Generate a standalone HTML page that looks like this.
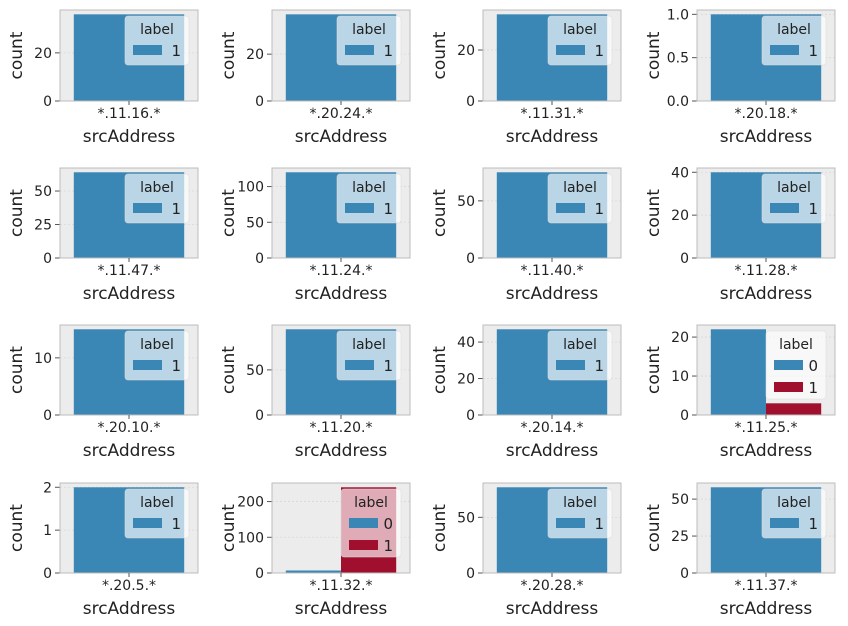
<!DOCTYPE html>
<html><head><meta charset="utf-8"><style>
html,body{margin:0;padding:0;background:#fff;}
svg{display:block;font-family:"DejaVu Sans","Liberation Sans",sans-serif;}
</style></head><body>
<svg id="chart" width="848" height="626" viewBox="0 0 848 626"></svg>
<script>
const categories=["*.11.16.*","*.20.24.*","*.11.31.*","*.20.18.*","*.11.47.*","*.11.24.*","*.11.40.*","*.11.28.*","*.20.10.*","*.11.20.*","*.20.14.*","*.11.25.*","*.20.5.*","*.11.32.*","*.20.28.*","*.11.37.*"];
const countLabel0=[null,null,null,null,null,null,null,null,null,null,null,22,null,7,null,null];
const countLabel1=[36,37,34,1,64,120,75,40,15,95,47,3,2,240,77,58];
const yTicks=[[0,20],[0,20],[0,20],[0,0.5,1.0],[0,25,50],[0,50,100],[0,50],[0,20,40],[0,10],[0,50],[0,20,40],[0,10,20],[0,1,2],[0,100,200],[0,50],[0,25,50]];
const yTickLabels=[["0","20"],["0","20"],["0","20"],["0.0","0.5","1.0"],["0","25","50"],["0","50","100"],["0","50"],["0","20","40"],["0","10"],["0","50"],["0","20","40"],["0","10","20"],["0","1","2"],["0","100","200"],["0","50"],["0","25","50"]];

const svg=document.getElementById('chart');
const NS='http://www.w3.org/2000/svg';
const tops=[10,168,325,483], bottoms=[101,258,415,573];
const lefts=[60,272,483,697], W=138;
const BLUE='#3A86B4', RED='#A0102E';
function mk(tag,attrs,parent){const e=document.createElementNS(NS,tag);for(const k in attrs)e.setAttribute(k,attrs[k]);(parent||svg).appendChild(e);return e;}

categories.forEach((cat,i)=>{
  const r=Math.floor(i/4), c=i%4;
  const x0=lefts[c], x1=x0+W, y0=tops[r], y1=bottoms[r], H=y1-y0;
  const g=mk('g',{});
  
  
  const has0=countLabel0[i]!==null;
  const vals=has0?[countLabel0[i],countLabel1[i]]:[countLabel1[i]];
  const ymax=Math.max(...vals)*1.05;
  const ys=v=>y1-v/ymax*H;
  const xs=u=>x0+(u+0.5)*W;
  const bg=mk('rect',{x:x0,y:y0,width:W,height:H,fill:'#ececec'},g);
  
  
  yTicks[i].forEach((t,k)=>{
    const y=ys(t);
    mk('line',{x1:x0,x2:x1,y1:y,y2:y,stroke:'#d8d8d8','stroke-width':0.8,'stroke-dasharray':'2,2'},g);
    mk('line',{x1:x0-5,x2:x0,y1:y,y2:y,stroke:'#555','stroke-width':1},g);
    const tl=mk('text',{x:x0-8,y:y+5,'text-anchor':'end','font-size':14,fill:'#222'},g);
    tl.textContent=yTickLabels[i][k];
    
    
  });
  if(has0){
    const b0=mk('rect',{x:xs(-0.4),y:ys(countLabel0[i]),width:xs(0)-xs(-0.4),height:y1-ys(countLabel0[i]),fill:BLUE},g);
    
    
    const b1=mk('rect',{x:xs(0),y:ys(countLabel1[i]),width:xs(0.4)-xs(0),height:y1-ys(countLabel1[i]),fill:RED},g);
    
    
  } else {
    const b=mk('rect',{x:xs(-0.4),y:ys(countLabel1[i]),width:xs(0.4)-xs(-0.4),height:y1-ys(countLabel1[i]),fill:BLUE},g);
    
    
  }
  mk('rect',{x:x0,y:y0,width:W,height:H,fill:'none',stroke:'#bcbcbc','stroke-width':1},g);
  mk('line',{x1:xs(0),x2:xs(0),y1:y1,y2:y1+4,stroke:'#555','stroke-width':1},g);
  const xt=mk('text',{x:xs(0),y:y1+17,'text-anchor':'middle','font-size':14,fill:'#222'},g);
  xt.textContent=cat;
  
  
  const xl=mk('text',{x:xs(0),y:y1+41,'text-anchor':'middle','font-size':17,fill:'#222'},g);
  xl.textContent='srcAddress';
  
  
  const yx=x0-38, yy=(y0+y1)/2;
  const yl=mk('text',{x:yx,y:yy,'text-anchor':'middle','font-size':17,fill:'#222',transform:`rotate(-90 ${yx} ${yy})`},g);
  yl.textContent='count';
  
  
  const lw=has0?60:64, lh=has0?68:49;
  const lx=x1-9-lw, ly=y0+6;
  const lg=mk('g',{},g);
  
  
  mk('rect',{x:lx,y:ly,width:lw,height:lh,rx:3,fill:'rgba(255,255,255,0.65)',stroke:'rgba(220,220,220,0.7)','stroke-width':0.8},lg);
  const lt=mk('text',{x:lx+lw/2,y:ly+18,'text-anchor':'middle','font-size':14,fill:'#222'},lg);
  lt.textContent='label';
  const entries=has0?[['0',BLUE],['1',RED]]:[['1',BLUE]];
  entries.forEach((en,k)=>{
    const ey=ly+29+k*22;
    const p=mk('rect',{x:lx+8,y:ey,width:29,height:10,fill:en[1]},lg);
    
    
    const et=mk('text',{x:lx+lw-8,y:ey+11,'text-anchor':'end','font-size':15,fill:'#222'},lg);
    et.textContent=en[0];
  });
});
</script>
</body></html>
